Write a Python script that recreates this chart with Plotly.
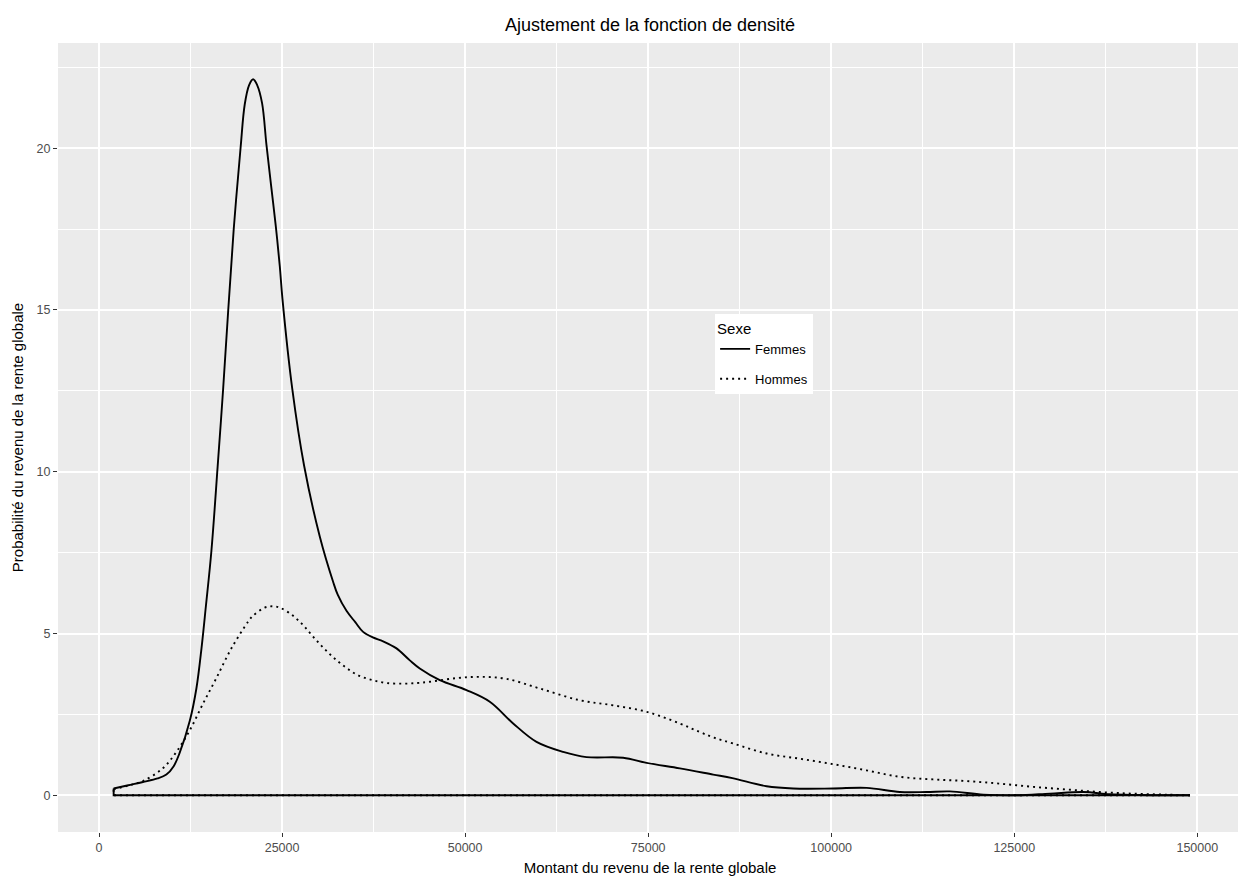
import plotly.graph_objects as go

# ---- data ----
femmes_x = [2000, 4000, 6000, 8000, 9200, 10200, 11000, 12400, 13300, 14000, 14600, 15350,
            16200, 16950, 17650, 18400, 19350, 19900, 20500, 21050, 21600, 22270, 22870,
            23500, 24140, 24690, 25050, 26400, 28000, 30150, 31970, 32600, 33800, 35000,
            36070, 37400, 38800, 40630, 42450, 43810, 46540, 50190, 53370, 56560, 59750,
            63390, 66580, 71580, 74780, 79330, 83880, 86500, 91170, 94810, 100270, 104830,
            109380, 113000, 116210, 120770, 125320, 129870, 134430, 138070, 142000, 149000]
femmes_y = [0.21, 0.31, 0.41, 0.52, 0.64, 0.9, 1.3, 2.3, 3.3, 4.55, 5.85, 7.55,
            10.15, 12.55, 15.0, 17.5, 20.05, 21.35, 21.95, 22.13, 21.95, 21.39, 20.1,
            18.85, 17.6, 16.35, 15.35, 12.55, 10.2, 8.0, 6.6, 6.2, 5.7, 5.35,
            5.05, 4.88, 4.76, 4.54, 4.17, 3.92, 3.56, 3.25, 2.89, 2.22, 1.65,
            1.34, 1.18, 1.16, 1.0, 0.83, 0.64, 0.53, 0.28, 0.21, 0.21, 0.23,
            0.1, 0.1, 0.12, 0.02, 0.0, 0.05, 0.1, 0.03, 0.01, 0.0]

hommes_x = [2000, 4000, 6000, 8700, 10570, 12400, 14200, 16000, 18100, 20350, 20950, 22630,
            23680, 24690, 26370, 27870, 29240, 30600, 32060, 33700, 35380, 37350, 39260,
            41530, 43500, 45200, 48800, 52000, 55600, 60200, 65600, 70200, 74800, 79300,
            82000, 84000, 86600, 91200, 95700, 100300, 104800, 109400, 113900, 118500,
            123000, 127600, 132100, 136700, 141200, 145800, 149000]
hommes_y = [0.19, 0.3, 0.44, 0.83, 1.34, 2.01, 2.83, 3.61, 4.55, 5.36, 5.53, 5.8,
            5.84, 5.8, 5.57, 5.26, 4.9, 4.57, 4.25, 3.95, 3.71, 3.56, 3.47,
            3.45, 3.47, 3.51, 3.62, 3.66, 3.6, 3.3, 2.94, 2.78, 2.58, 2.22,
            1.96, 1.78, 1.6, 1.29, 1.13, 0.96, 0.77, 0.57, 0.49, 0.44,
            0.36, 0.26, 0.18, 0.1, 0.05, 0.02, 0.0]

x_ticks = [0, 25000, 50000, 75000, 100000, 125000, 150000]
y_ticks = [0, 5, 10, 15, 20]

FONT = "Liberation Sans, Arial, sans-serif"
W, H = 1238, 874  # page body has an 8px margin

fig = go.Figure()

series = [
    ("Femmes", femmes_x, femmes_y, "solid"),
    ("Hommes", hommes_x, hommes_y, "2px,4px"),
]
for name, xs, ys, dash in series:
    # density curve
    fig.add_trace(go.Scatter(
        x=xs, y=ys, mode="lines", name=name,
        line=dict(color="black", width=1.9, dash=dash, shape="spline", smoothing=1.0),
        showlegend=True, legendgroup=name,
    ))
    # closing outline of the density polygon (baseline + left edge)
    fig.add_trace(go.Scatter(
        x=[xs[-1], xs[0], xs[0]], y=[0, 0, ys[0]], mode="lines",
        line=dict(color="black", width=1.9, dash=dash),
        showlegend=False, legendgroup=name, hoverinfo="skip",
    ))

fig.update_layout(
    width=W, height=H,
    paper_bgcolor="white", plot_bgcolor="#EBEBEB",
    margin=dict(l=50, r=4, t=35, b=50),
    font=dict(family=FONT, color="black"),
    title=dict(text="Ajustement de la fonction de densité", x=0.5, xref="paper",
               xanchor="center", y=1 - 17 / H, yanchor="middle",
               font=dict(size=18, family=FONT, color="black")),
    legend=dict(
        title=dict(text="Sexe", font=dict(size=15, family=FONT, color="black")),
        x=0.555, y=0.656, xanchor="left", yanchor="top",
        bgcolor="white", borderwidth=0,
        font=dict(size=13, family=FONT, color="black"),
        itemwidth=30, tracegroupgap=10,
    ),
    showlegend=True,
)

fig.update_xaxes(
    range=[-5600, 156100],
    tickvals=x_ticks, ticktext=[str(v) for v in x_ticks],
    showgrid=True, gridcolor="white", gridwidth=2,
    minor=dict(dtick=12500, tick0=0, showgrid=True, gridcolor="white", gridwidth=1),
    zeroline=False, showline=False,
    ticks="outside", ticklen=4, tickwidth=1.2, tickcolor="#333333",
    tickfont=dict(size=12.5, color="#4D4D4D", family=FONT),
    title=dict(text="Montant du revenu de la rente globale",
               font=dict(size=15, color="black", family=FONT), standoff=8),
)
fig.update_yaxes(
    range=[-1.135, 23.25],
    tickvals=y_ticks, ticktext=[str(v) for v in y_ticks],
    showgrid=True, gridcolor="white", gridwidth=2,
    minor=dict(dtick=2.5, tick0=0, showgrid=True, gridcolor="white", gridwidth=1),
    zeroline=False, showline=False,
    ticks="outside", ticklen=4, tickwidth=1.2, tickcolor="#333333",
    tickfont=dict(size=12.5, color="#4D4D4D", family=FONT),
    title=dict(text="Probabilité du revenu de la rente globale",
               font=dict(size=15, color="black", family=FONT), standoff=9),
)

fig.write_html("out.html")
